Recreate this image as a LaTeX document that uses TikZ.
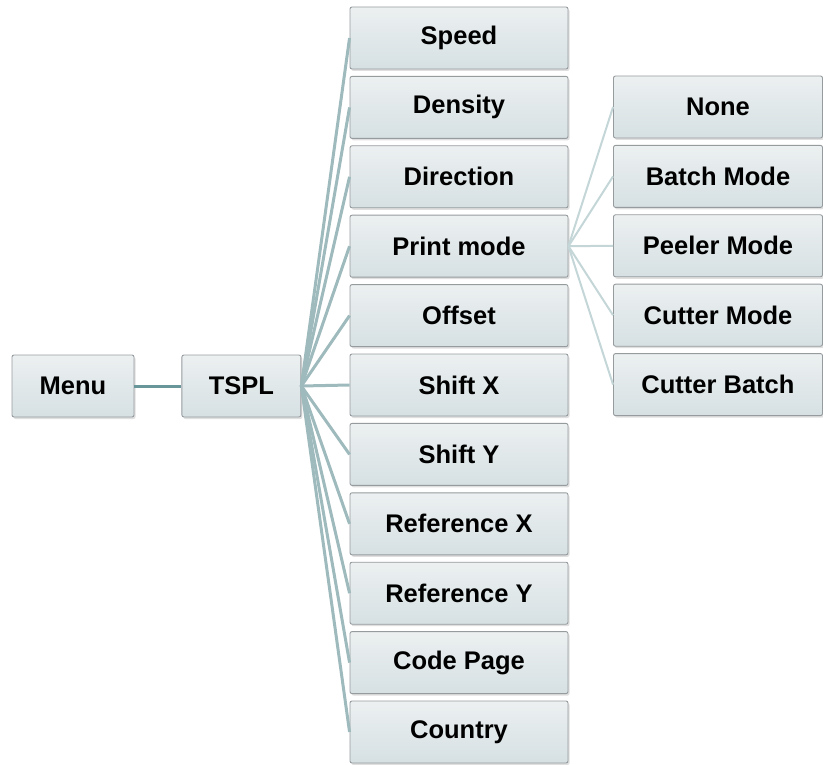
\documentclass[tikz,border=0pt]{standalone}
\usepackage{fontspec}
\setmainfont{Liberation Sans}
\usepackage{xcolor}
\usetikzlibrary{positioning,shadows}

\definecolor{boxtop}{RGB}{236,240,241}
\definecolor{boxbot}{RGB}{214,224,227}
\definecolor{boxline}{RGB}{150,155,158}
\definecolor{linkmain}{RGB}{105,150,152}
\definecolor{linkmid}{RGB}{158,186,188}
\definecolor{linkright}{RGB}{196,214,215}

\begin{document}
\begin{tikzpicture}[
    x=1pt, y=1pt,
    node distance=6.5pt and 47pt,
    item/.style={
        rectangle, draw=boxline, line width=0.9pt, rounded corners=2pt,
        top color=boxtop, bottom color=boxbot,
        minimum height=62pt, font=\fontsize{25.5}{28}\selectfont\bfseries,
        drop shadow={opacity=0.25, shadow xshift=1.5pt, shadow yshift=-2pt}
    },
    small/.style={item, minimum width=122pt},
    wide/.style={item, minimum width=218pt},
    sub/.style={item, minimum width=209pt},
    link/.style={linkmid, line width=3pt},
    sublink/.style={linkright, line width=2pt}
]
\useasboundingbox (0,0) rectangle (823,-765);

% Level 1: root
\node[small] (menu) at (73,-386) {Menu};
\node[small, right=of menu, minimum width=119pt] (tspl) {TSPL};

% Level 2: TSPL items
\node[wide] (speed) at (459,-38) {Speed};
\node[wide, below=of speed] (density) {Density};
\node[wide, below=of density] (direction) {Direction};
\node[wide, below=of direction] (printmode) {Print mode};
\node[wide, below=of printmode] (offset) {Offset};
\node[wide, below=of offset] (shiftx) {Shift X};
\node[wide, below=of shiftx] (shifty) {Shift Y};
\node[wide, below=of shifty] (refx) {Reference X};
\node[wide, below=of refx] (refy) {Reference Y};
\node[wide, below=of refy] (codepage) {Code Page};
\node[wide, below=of codepage] (country) {Country};

% Level 3: print modes
\node[sub] (none) at (718,-107) {None};
\node[sub, below=of none] (batch) {Batch Mode};
\node[sub, below=of batch] (peeler) {Peeler Mode};
\node[sub, below=of peeler] (cutter) {Cutter Mode};
\node[sub, below=of cutter] (cutbatch) {Cutter Batch};

% Links
\draw[linkmain, line width=3pt] (menu) -- (tspl);
\draw[link] (tspl.east) -- (speed.west);
\draw[link] (tspl.east) -- (density.west);
\draw[link] (tspl.east) -- (direction.west);
\draw[link] (tspl.east) -- (printmode.west);
\draw[link] (tspl.east) -- (offset.west);
\draw[link] (tspl.east) -- (shiftx.west);
\draw[link] (tspl.east) -- (shifty.west);
\draw[link] (tspl.east) -- (refx.west);
\draw[link] (tspl.east) -- (refy.west);
\draw[link] (tspl.east) -- (codepage.west);
\draw[link] (tspl.east) -- (country.west);

\draw[sublink] (printmode.east) -- (none.west);
\draw[sublink] (printmode.east) -- (batch.west);
\draw[sublink] (printmode.east) -- (peeler.west);
\draw[sublink] (printmode.east) -- (cutter.west);
\draw[sublink] (printmode.east) -- (cutbatch.west);

\end{tikzpicture}
\end{document}
